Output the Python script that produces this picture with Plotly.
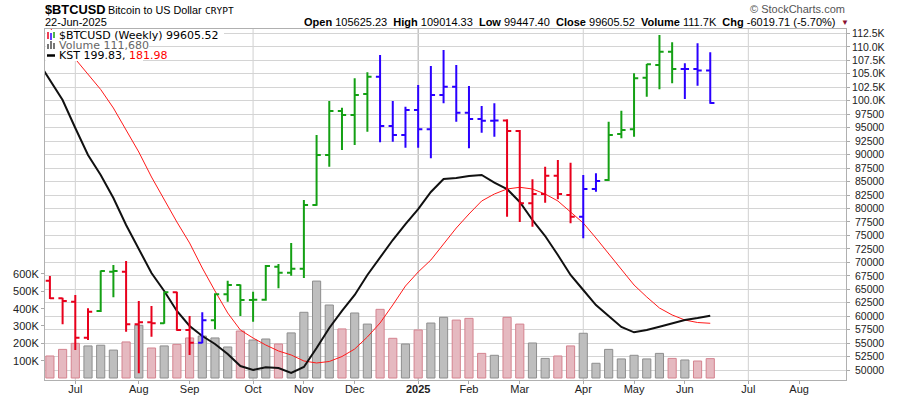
import pandas as pd
import plotly.graph_objects as go

# ---------------- data ----------------
week_start = pd.date_range("2024-06-17", periods=53, freq="7D")

open_ = [66601, 63335, 62704, 56022, 60977, 68272, 68272, 58509, 58880, 58694,
         64448, 57451, 55094, 59252, 64077, 65803, 62999, 63050, 69199, 68087,
         68800, 80651, 89931, 98097, 97355, 101253, 104463, 95313, 93643, 98283,
         94701, 101067, 102607, 97782, 96612, 96297, 96316, 94386, 80967, 82693,
         86089, 82500, 78480, 83621, 85291, 93828, 94701, 104278, 106635, 109103,
         105893, 105900, 105625.23]
high = [67473, 63450, 63947, 61478, 68500, 69515, 70258, 62833, 61905, 64500,
        64560, 60050, 60737, 64262, 66601, 65900, 64560, 69515, 69700, 73600,
        81579, 93643, 99953, 98700, 104166, 105280, 108491, 99953, 98895, 102923,
        106449, 109419, 106635, 102737, 99025, 99526, 96557, 94571, 85422, 87760,
        88999, 88498, 86219, 86534, 96111, 98153, 105095, 106820, 112203, 110848,
        106950, 110662, 109014.33]
low = [63205, 58509, 53739, 55595, 60800, 63520, 57135, 49415, 56207, 58600,
       57300, 52811, 55000, 57581, 62704, 60050, 58993, 62900, 65190, 67500,
       67100, 80500, 87760, 90859, 91787, 94256, 92288, 92400, 91286, 91286,
       89318, 99526, 96111, 91175, 94070, 93328, 78480, 77500, 76600, 81077,
       81700, 77250, 74470, 83120, 85100, 93030, 93328, 100751, 102125, 103238,
       100325, 102793, 99447.40]
close = [63335, 62833, 56022, 60847, 68402, 68420, 58509, 58880, 58694, 64448,
         57451, 55094, 59252, 64077, 65803, 62999, 63050, 69329, 68087, 68800,
         80651, 89931, 98097, 97355, 101067, 104463, 95313, 93643, 98283, 94701,
         101067, 102607, 97782, 96612, 96297, 96316, 94386, 80967, 82693, 86089,
         82693, 78480, 83621, 85105, 93643, 94571, 104166, 106765, 109103, 105893,
         105900, 105625.23, 99605.52]
prior_close = 66490  # close of the week before the first bar

volume = [127000, 165000, 200000, 185000, 189000, 161000, 208000, 304000, 173000, 185000,
          194000, 231000, 242000, 231000, 179000, 271000, 219000, 225000, 196000, 260000,
          379000, 559000, 421000, 283000, 375000, 311000, 396000, 229000, 196000, 277000,
          317000, 350000, 334000, 344000, 142000, 131000, 350000, 311000, 202000, 113000,
          127000, 185000, 258000, 85000, 165000, 110000, 131000, 110000, 142000, 113000,
          104000, 98000, 111680]

# Elder-impulse style bar state: G = green, R = red, B = blue
impulse = list("RRRRGGRRRGRRBGGGGGGG" "GGGGGGBBBBBBBBBBRRRR" "RRBBGGGGGGBBB")

kst_dates = pd.date_range("2024-06-10", periods=54, freq="7D")
kst = [800.7, 753.7, 706.7, 640.9, 577.5, 530.5, 476.4, 413.0, 356.6, 300.2,
       257.9, 210.9, 175.6, 152.1, 133.3, 109.8, 81.6, 72.2, 78.6, 76.9,
       65.2, 79.2, 123.9, 170.9, 210.9, 248.5, 295.5, 337.8, 377.7, 415.3,
       450.5, 490.5, 521.1, 523.4, 528.1, 530.5, 512.8, 497.6, 467.0, 424.7,
       387.1, 342.5, 295.5, 260.2, 224.9, 199.1, 173.3, 160.8, 166.2, 173.9,
       181.5, 189.7, 194.4, 199.83]
kst_signal = [918.2, 875.9, 835.9, 803.1, 767.8, 731.4, 687.9, 636.2, 584.5, 525.8,
              471.7, 420.0, 370.7, 311.9, 257.9, 206.2, 166.2, 147.4, 130.9, 116.9,
              107.5, 93.4, 88.7, 92.2, 103.9, 121.5, 149.8, 182.7, 225.0, 269.6,
              302.5, 330.7, 368.3, 405.9, 438.8, 469.4, 485.8, 497.6, 501.6, 497.6,
              485.8, 469.4, 443.5, 417.7, 382.4, 344.8, 307.2, 271.9, 243.8, 217.9,
              201.5, 189.7, 183.8, 181.98]

month_ticks = ["2024-07-01", "2024-08-05", "2024-09-02", "2024-10-07", "2024-11-04",
               "2024-12-02", "2025-01-06", "2025-02-03", "2025-03-03", "2025-04-07",
               "2025-05-05", "2025-06-02", "2025-07-07", "2025-08-04"]
month_labels = ["Jul", "Aug", "Sep", "Oct", "Nov", "Dec", "<b>2025</b>", "Feb", "Mar",
                "Apr", "May", "Jun", "Jul", "Aug"]
quarter_lines = ["2024-07-01", "2024-10-07", "2025-01-06", "2025-04-07", "2025-07-07"]
year_line = "2025-01-06"

price_ticks = list(range(50000, 112501, 2500))
price_labels = [f"{v/1000:.1f}K" if v >= 100000 else "\u2008" + str(v) for v in price_ticks]
vol_ticks = [100000, 200000, 300000, 400000, 500000, 600000]
vol_labels = ["100K", "200K", "300K", "400K", "500K", "600K"]

# ---------------- style ----------------
BAR_COL = {"G": "#14a014", "R": "#e8001c", "B": "#2a00ff"}
FONT = "Liberation Sans, Arial, sans-serif"
LEG_FONT = "DejaVu Sans, Verdana, sans-serif"
L, R, T, B = 45, 846, 29, 380
W, H = 900, 396


def px(x):
    return (x - L) / (R - L)


def py(y):
    return (B - y) / (B - T)


fig = go.Figure()

# volume bars (base axis)
prev = [prior_close] + close[:-1]
down = [c < p for c, p in zip(close, prev)]
fig.add_trace(go.Bar(
    x=week_start, y=volume,
    width=4.5 * 86400000,
    marker=dict(color=["#e5b9c0" if d else "#bebebe" for d in down],
                line=dict(color=["#d4838f" if d else "#8e8e8e" for d in down], width=1)),
    xaxis="x", yaxis="y", showlegend=False, hoverinfo="skip"))

# KST lines
fig.add_trace(go.Scatter(x=kst_dates, y=kst_signal, mode="lines",
                         line=dict(color="#ff1a1a", width=1), yaxis="y2",
                         showlegend=False, hoverinfo="skip"))
fig.add_trace(go.Scatter(x=kst_dates, y=kst, mode="lines",
                         line=dict(color="#111111", width=2), yaxis="y2",
                         showlegend=False, hoverinfo="skip"))

# price OHLC bars, grouped by colour state
for state, col in BAR_COL.items():
    idx = [i for i, s in enumerate(impulse) if s == state]
    fig.add_trace(go.Ohlc(
        x=[week_start[i] for i in idx],
        open=[open_[i] for i in idx], high=[high[i] for i in idx],
        low=[low[i] for i in idx], close=[close[i] for i in idx],
        increasing=dict(line=dict(color=col, width=2)),
        decreasing=dict(line=dict(color=col, width=2)),
        tickwidth=0.33, yaxis="y3", showlegend=False, hoverinfo="skip"))

step = pd.Timedelta(days=7)
x0 = week_start[0] - step * 0.386
x1 = week_start[0] + step * 62.69

shapes = []
for d in quarter_lines:
    shapes.append(dict(type="line", xref="x", yref="paper", x0=d, x1=d, y0=0, y1=1,
                       layer="between",
                       line=dict(color="#a8a8a8" if d == year_line else "#d0d0d0", width=1)))

# white masks behind the in-chart legend rows
for x_end, y_top, y_bot in [(224, 30, 40), (149, 40, 50.5), (143, 50.5, 61)]:
    shapes.append(dict(type="rect", xref="paper", yref="paper", x0=px(45.5), x1=px(x_end),
                       y0=py(y_bot), y1=py(y_top), fillcolor="white",
                       line=dict(width=0), layer="above"))

# legend icons
shapes += [
    dict(type="line", xref="paper", yref="paper", x0=px(48), x1=px(48), y0=py(39), y1=py(32),
         line=dict(color="#e8001c", width=1.5)),
    dict(type="line", xref="paper", yref="paper", x0=px(51), x1=px(51), y0=py(40), y1=py(33),
         line=dict(color="#2a00ff", width=1.5)),
    dict(type="line", xref="paper", yref="paper", x0=px(54), x1=px(54), y0=py(38), y1=py(32),
         line=dict(color="#14a014", width=1.5)),
    dict(type="line", xref="paper", yref="paper", x0=px(47), x1=px(55), y0=py(55.5), y1=py(55.5),
         line=dict(color="#000000", width=2.5)),
]
for xx, hh in [(48, 5), (51, 8), (54, 6)]:
    shapes.append(dict(type="rect", xref="paper", yref="paper", x0=px(xx - 1), x1=px(xx + 1),
                       y0=py(49), y1=py(49 - hh), fillcolor="#777777", line=dict(width=0),
                       layer="above"))

ann = []


def add_text(text, x, y, anchor="left", size=11, color="#000", family=FONT):
    ann.append(dict(text=text, x=px(x), y=py(y), xanchor=anchor, yanchor="middle",
                    font=dict(family=family, size=size, color=color), showarrow=False,
                    xref="paper", yref="paper"))


add_text("<b>$BTCUSD</b>", 43, 9.5, size=12.8)
add_text("Bitcoin to US Dollar", 106, 10, size=10.8)
add_text("CRYPT", 203, 10.5, size=9.5, family="DejaVu Sans Mono, monospace")
add_text("22-Jun-2025", 43, 22, size=11)
hdr = ("<b>Open</b> 105625.23  <b>High</b> 109014.33  <b>Low</b> 99447.40  "
       "<b>Close</b> 99605.52  <b>Volume</b> 111.7K  <b>Chg</b> -6019.71 (-5.70%)")
add_text(hdr, 837, 22, anchor="right", size=11)
add_text("\u25bc", 838.5, 22, size=8, color="#8b1030")
add_text("\u00a9 StockCharts.com", 847, 9.5, anchor="right", size=11, color="#555")
add_text("$BTCUSD (Weekly) 99605.52", 56.5, 35.5, size=11, family=LEG_FONT)
add_text("Volume 111,680", 56.5, 45.5, size=11, color="#666", family=LEG_FONT)
add_text("KST 199.83, <span style='color:#ff0000'>181.98</span>", 56.5, 55.5, size=11,
         family=LEG_FONT)

fig.update_layout(
    template="none",
    width=W, height=H, autosize=False,
    margin=dict(l=L, r=W - R, t=T, b=H - B, pad=0, autoexpand=False),
    paper_bgcolor="white", plot_bgcolor="white",
    bargap=0, showlegend=False,
    font=dict(family=FONT, size=11, color="#222"),
    xaxis=dict(type="date", range=[x0, x1], tickmode="array", tickvals=month_ticks,
               ticktext=month_labels, showgrid=False, ticks="outside", ticklen=3,
               tickcolor="#aaaaaa", showline=True, linecolor="#b0b0b0", mirror=True,
               rangeslider=dict(visible=False), tickfont=dict(size=11, color="#222"),
               ticklabelstandoff=-4, zeroline=False, automargin=False),
    yaxis=dict(range=[-11500, 2012700], tickmode="array", tickvals=vol_ticks,
               ticktext=vol_labels, side="left", showgrid=False, zeroline=False,
               ticks="outside", ticklen=3, tickcolor="#aaaaaa", automargin=False,
               tickfont=dict(size=11, color="#222")),
    yaxis2=dict(range=[48.7, 873.6], overlaying="y", visible=False, showgrid=False,
                automargin=False),
    yaxis3=dict(range=[48171, 113317], overlaying="y", side="right", tickmode="array",
                tickvals=price_ticks, ticktext=price_labels, showgrid=True,
                gridcolor="#d4d4d4", gridwidth=1, zeroline=False, ticks="outside",
                ticklen=3, tickcolor="#aaaaaa", showline=True, linecolor="#b0b0b0",
                mirror=True, automargin=False, tickfont=dict(size=10.5, color="#222")),
    shapes=shapes, annotations=ann,
)

# remove the browser's default 8px body margin so the figure sits at the page origin
fig.write_html("out.html",
               config={"displayModeBar": False, "staticPlot": True},
               post_script="document.body.style.margin='0';document.body.style.overflow='hidden';")
